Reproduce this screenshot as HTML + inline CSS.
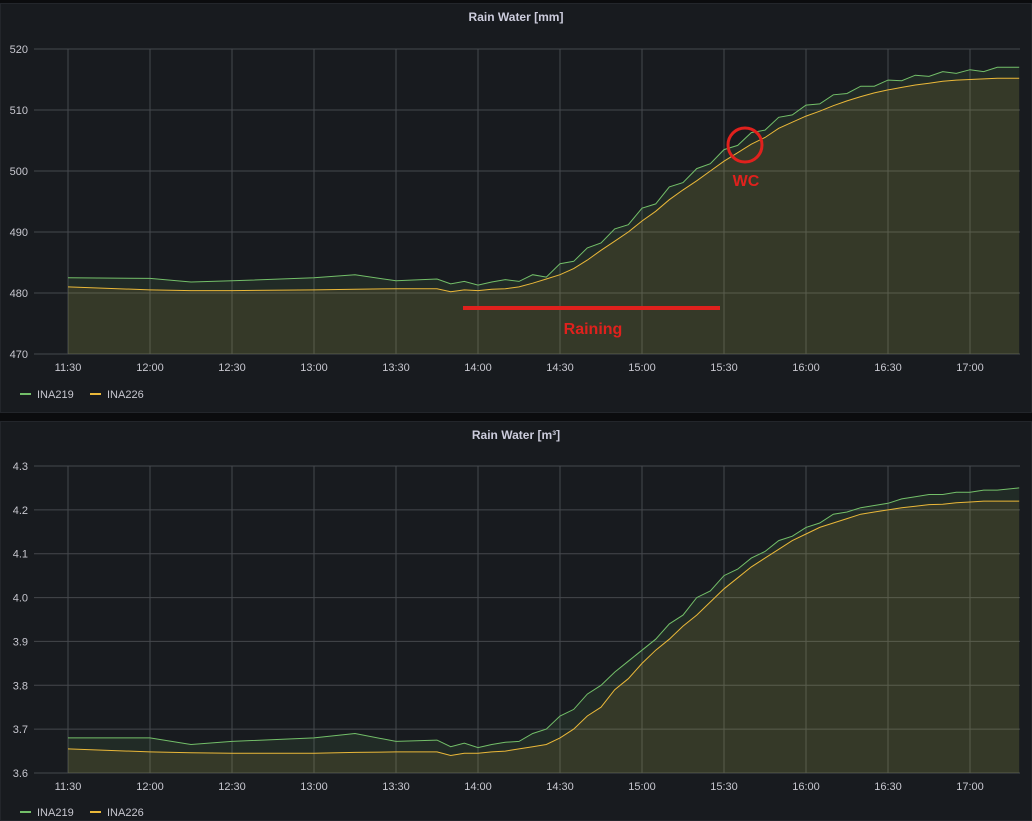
<!DOCTYPE html>
<html><head><meta charset="utf-8">
<style>
html,body{margin:0;padding:0;background:#0b0c0e;width:1032px;height:821px;overflow:hidden;font-family:"Liberation Sans",sans-serif}
.panel{position:absolute;left:0;width:1032px;background:#181b1f;border:1px solid #23262b;box-sizing:border-box}
svg text{font-family:"Liberation Sans",sans-serif}
</style></head><body>
<div class="panel" style="top:3px;height:410px"></div>
<div class="panel" style="top:421px;height:400px"></div>
<svg id="s" width="1032" height="821" style="position:absolute;left:0;top:0"></svg>
<script>
const xTicks=["11:30","12:00","12:30","13:00","13:30","14:00","14:30","15:00","15:30","16:00","16:30","17:00"];
// minutes since 11:30
const t1=[0,30,45,60,90,105,120,135,140,145,150,155,160,165,170,175,180,185,190,195,200,205,210,215,220,225,230,235,240,245,250,255,260,265,270,275,280,285,290,295,300,305,310,315,320,325,330,335,340,348];
const mmGreen=[482.5,482.4,481.8,482,482.5,483,482,482.3,481.5,481.9,481.3,481.8,482.2,481.9,483,482.6,484.8,485.2,487.4,488.2,490.5,491.2,493.9,494.6,497.4,498.1,500.4,501.2,503.5,504.2,506.3,506.7,508.8,509.2,510.8,511,512.5,512.7,513.9,513.9,514.9,514.8,515.7,515.5,516.3,516,516.6,516.3,517,517];
const mmYellow=[481,480.5,480.4,480.4,480.5,480.6,480.7,480.7,480.2,480.5,480.4,480.6,480.7,481,481.6,482.3,483,484,485.4,487,488.5,490,491.8,493.4,495.3,496.9,498.4,500,501.6,503,504.4,505.5,507,508,509,509.8,510.7,511.5,512.2,512.8,513.3,513.7,514.1,514.4,514.7,514.9,515,515.1,515.2,515.2];
const m3Green=[3.68,3.68,3.665,3.672,3.68,3.69,3.672,3.675,3.66,3.668,3.658,3.665,3.67,3.672,3.69,3.70,3.73,3.745,3.78,3.80,3.83,3.855,3.88,3.905,3.94,3.96,4.00,4.015,4.05,4.065,4.09,4.105,4.13,4.14,4.16,4.17,4.19,4.195,4.205,4.21,4.215,4.225,4.23,4.235,4.235,4.24,4.24,4.245,4.245,4.25];
const m3Yellow=[3.655,3.648,3.646,3.645,3.645,3.647,3.648,3.648,3.64,3.645,3.645,3.648,3.65,3.655,3.66,3.665,3.68,3.70,3.73,3.75,3.79,3.815,3.85,3.88,3.905,3.935,3.96,3.99,4.02,4.045,4.07,4.09,4.11,4.13,4.145,4.16,4.17,4.18,4.19,4.195,4.2,4.205,4.208,4.212,4.213,4.216,4.218,4.22,4.22,4.22];
const mmTicks=[470,480,490,500,510,520];
const m3Ticks=[3.6,3.7,3.8,3.9,4.0,4.1,4.2,4.3];
const NS="http://www.w3.org/2000/svg",S=document.getElementById('s');
function el(tag,at,txt){const e=document.createElementNS(NS,tag);for(const k in at)e.setAttribute(k,at[k]);if(txt!==undefined)e.textContent=txt;S.appendChild(e);return e;}
function chart(o){
 const L=34,R=1020,x=m=>68+m*82/30,y=v=>o.y0+(v-o.vmin)/(o.vmax-o.vmin)*(o.y1-o.y0);
 const title=el('text',{x:516,y:o.ty,'text-anchor':'middle',fill:'#ccccdc','font-size':12,'font-weight':'bold'},o.title);
 
 
 o.ticks.forEach(v=>{
  const g=el('line',{x1:L,x2:R,y1:y(v),y2:y(v),stroke:'#45484d','stroke-width':1});
  
  
  const t=el('text',{x:28,y:y(v)+4,'text-anchor':'end',fill:'#c7c7cf','font-size':11},o.fmt(v));
  
  
 });
 xTicks.forEach((s,i)=>{
  const xx=x(i*30);
  const g=el('line',{x1:xx,x2:xx,y1:o.y1,y2:o.y0,stroke:'#45484d','stroke-width':1});
  
  
  const t=el('text',{x:xx,y:o.y0+17,'text-anchor':'middle',fill:'#c7c7cf','font-size':11},s);
  
  
 });
 [[o.g,'#73bf69','ina219'],[o.yl,'#eab839','ina226']].forEach(([d,c,n])=>{
  const pts=t1.map((m,i)=>x(m).toFixed(1)+','+y(d[i]).toFixed(1));
  const a=el('polygon',{points:x(0)+','+o.y0+' '+pts.join(' ')+' '+x(t1[t1.length-1])+','+o.y0,fill:c,'fill-opacity':0.1});
  
  
  const p=el('polyline',{points:pts.join(' '),fill:'none',stroke:c,'stroke-width':1});
  
  
 });
 [['INA219','#73bf69',20],['INA226','#eab839',90]].forEach(([n,c,lx])=>{
  const l=el('line',{x1:lx,x2:lx+11,y1:o.ly,y2:o.ly,stroke:c,'stroke-width':2});
  
  
  const t=el('text',{x:lx+17,y:o.ly+4,fill:'#c7c7cf','font-size':11},n);
  
  
 });
}
chart({title:'Rain Water [mm]',ty:21,y0:354,y1:49,vmin:470,vmax:520,ticks:mmTicks,fmt:v=>String(v),ly:394,g:mmGreen,yl:mmYellow});
chart({title:'Rain Water [m³]',ty:439,y0:773,y1:466,vmin:3.6,vmax:4.3,ticks:m3Ticks,fmt:v=>v.toFixed(1),ly:812,g:m3Green,yl:m3Yellow});
const rl=el('line',{x1:463,x2:720,y1:308,y2:308,stroke:'#e0211d','stroke-width':4});


const rt=el('text',{x:593,y:334,'text-anchor':'middle',fill:'#e0211d','font-size':16,'font-weight':'bold'},'Raining');


const wc=el('circle',{cx:745,cy:145,r:17,fill:'none',stroke:'#e0211d','stroke-width':3});


const wt=el('text',{x:746,y:186,'text-anchor':'middle',fill:'#e0211d','font-size':16,'font-weight':'bold'},'WC');


</script>
</body></html>
